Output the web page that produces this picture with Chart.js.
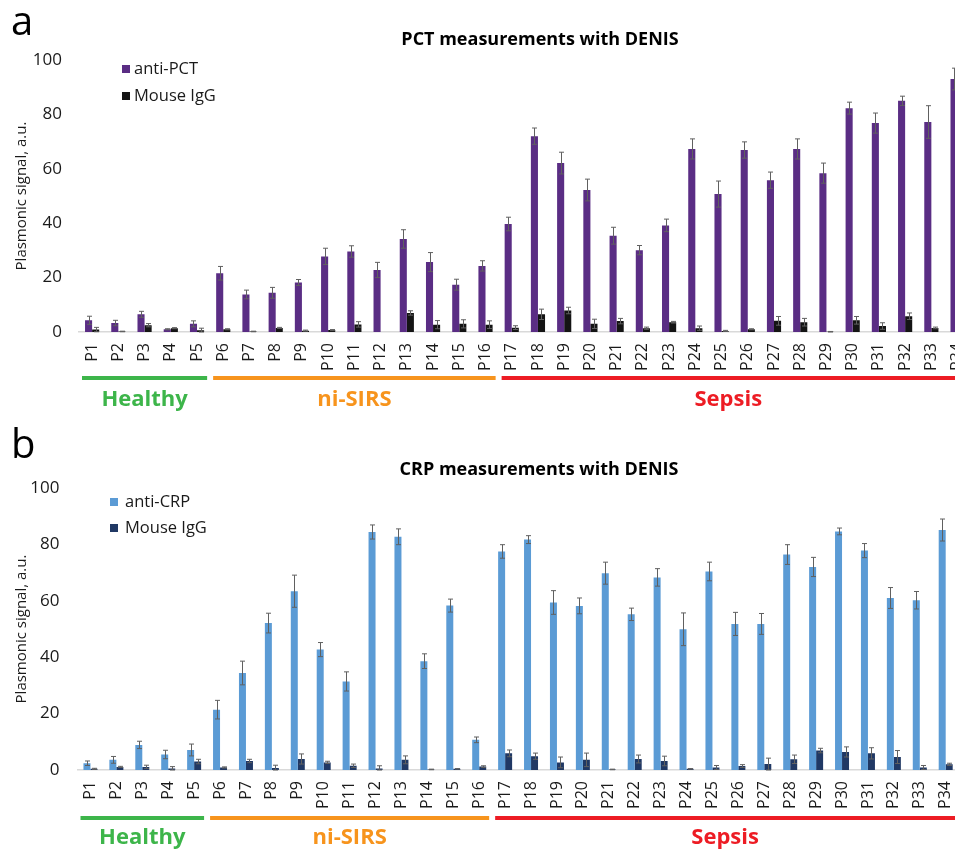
<!DOCTYPE html>
<html>
<head>
<meta charset="utf-8">
<script src="https://cdn.jsdelivr.net/npm/chart.js@4/dist/chart.umd.min.js"></script>
<style>
  body { margin: 0; background: #fff; }
  #fig { position: relative; width: 955px; height: 849px; overflow: hidden; }
  #pctChart { position: absolute; left: 0; top: 0; }
  #crpChart { position: absolute; left: 0; top: 420px; }
</style>
</head>
<body>
<div id="fig">
  <canvas id="pctChart" width="988" height="420"></canvas>
  <canvas id="crpChart" width="976" height="429"></canvas>
</div>
<script>
// Patients
const patients = ["P1","P2","P3","P4","P5","P6","P7","P8","P9","P10","P11","P12","P13","P14","P15","P16","P17",
    "P18","P19","P20","P21","P22","P23","P24","P25","P26","P27","P28","P29","P30","P31","P32","P33","P34"];

// Patient groups (first and last patient index)
const groupNames = ["Healthy", "ni-SIRS", "Sepsis"];
const groupFirst = [0, 5, 16];
const groupLast = [4, 15, 33];
const groupColors = ["#3db54a", "#f7941d", "#ed1c24"];

// PCT panel
const pctAnti = [4.3, 3.3, 6.5, 1.0, 3.0, 21.6, 13.8, 14.4, 18.2, 27.8, 29.6, 22.8, 34.2, 25.7, 17.4, 24.3, 39.7,
    72.0, 62.1, 52.2, 35.4, 30.1, 39.2, 67.3, 50.7, 66.9, 55.8, 67.3, 58.4, 82.3, 76.8, 85.0, 77.2, 93.0];
const pctAntiErr = [1.5, 1.0, 1.1, 0.2, 1.1, 2.5, 1.6, 2.0, 1.1, 3.0, 2.1, 2.8, 3.4, 3.5, 2.0, 1.9, 2.5,
    3.0, 4.0, 4.0, 3.1, 1.7, 2.3, 3.7, 4.8, 3.0, 3.0, 3.7, 3.7, 2.2, 3.7, 1.7, 6.0, 4.0];
const pctIgg = [0.9, 0.2, 2.5, 1.4, 0.6, 1.0, 0.2, 1.5, 0.5, 0.7, 2.8, 0, 7.0, 2.7, 3.0, 2.7, 1.6,
    6.5, 7.9, 3.0, 4.0, 1.4, 3.6, 1.4, 0.4, 1.0, 4.1, 3.6, 0.1, 4.3, 2.2, 5.8, 1.5, 1.0];
const pctIggErr = [0.8, 0.1, 0.6, 0.2, 0.8, 0.2, 0.1, 0.2, 0.2, 0.2, 1.0, 0, 0.8, 1.5, 1.5, 1.4, 0.7,
    1.9, 1.2, 1.7, 1.0, 0.4, 0.3, 0.8, 0.2, 0.2, 1.6, 1.4, 0.1, 1.4, 1.2, 1.2, 0.3, 0.3];

// CRP panel
const crpAnti = [2.4, 3.6, 8.9, 5.5, 7.1, 21.4, 34.4, 52.1, 63.4, 42.7, 31.4, 84.4, 82.7, 38.6, 58.3, 10.7, 77.5,
    81.7, 59.4, 58.2, 69.8, 55.2, 68.3, 49.9, 70.4, 51.8, 51.8, 76.4, 72.0, 84.6, 77.8, 61.0, 60.2, 85.1];
const crpAntiErr = [0.8, 1.2, 1.3, 1.5, 2.1, 3.3, 4.2, 3.5, 5.7, 2.5, 3.4, 2.5, 2.8, 2.6, 2.3, 1.0, 2.4,
    1.4, 4.2, 2.8, 3.9, 2.2, 3.1, 5.8, 3.3, 4.1, 3.7, 3.5, 3.4, 1.2, 2.5, 3.7, 3.1, 3.9];
const crpIgg = [0.4, 1.1, 1.1, 0.5, 3.0, 0.9, 3.2, 0.7, 3.9, 2.7, 1.5, 0.5, 3.6, 0.2, 0.4, 1.2, 5.9,
    4.9, 2.7, 3.6, 0.2, 3.9, 3.2, 0.4, 0.9, 1.4, 2.1, 3.8, 6.9, 6.4, 5.9, 4.6, 0.9, 2.0];
const crpIggErr = [0.2, 0.2, 0.6, 0.7, 0.8, 0.2, 0.6, 1.0, 1.8, 0.4, 0.6, 1.0, 1.4, 0.1, 0.1, 0.3, 1.2,
    1.1, 1.9, 2.4, 0.1, 1.4, 1.7, 0.1, 0.7, 0.5, 2.1, 1.5, 0.8, 1.8, 2.0, 2.3, 0.7, 0.4];

const yMax = 100;
const yStep = 20;

const FONT = "'Open Sans', 'Noto Sans', sans-serif";

// error bars, drawn from the scale
const errorBars = {
    id: "errorBars",
    afterDatasetsDraw(chart) {
        const ctx = chart.ctx;
        const y = chart.scales.y;
        ctx.save();
        ctx.strokeStyle = "#606060";
        ctx.lineWidth = 1;
        chart.data.datasets.forEach((ds, di) => {
            chart.getDatasetMeta(di).data.forEach((bar, i) => {
                const e = ds.errors[i];
                if (!e) return;
                const top = y.getPixelForValue(ds.data[i] + e);
                const bot = y.getPixelForValue(Math.max(ds.data[i] - e, 0));
                const x = Math.round(bar.x) + 0.5;
                ctx.beginPath();
                ctx.moveTo(x, top); ctx.lineTo(x, bot);
                ctx.moveTo(x - 2.5, top); ctx.lineTo(x + 2.5, top);
                ctx.moveTo(x - 2.5, bot); ctx.lineTo(x + 2.5, bot);
                ctx.stroke();
            });
        });
        ctx.restore();
    }
};

// panel letter, title, legend and group brackets
function makeDeco(opt) {
    return {
        id: "deco",
        afterDraw(chart) {
            const ctx = chart.ctx;
            const area = chart.chartArea;
            const x = chart.scales.x;
            ctx.save();
            ctx.fillStyle = "#000";
            ctx.font = "40px " + FONT;
            ctx.textAlign = "left";
            ctx.textBaseline = "alphabetic";
            ctx.fillText(opt.letter, opt.letterX, opt.letterY);

            ctx.font = "bold 18px " + FONT;
            ctx.textAlign = "center";
            ctx.textBaseline = "middle";
            ctx.fillText(opt.title, opt.titleX, opt.titleY);

            // legend
            ctx.font = "16.5px " + FONT;
            ctx.textAlign = "left";
            chart.data.datasets.forEach((ds, i) => {
                const ly = opt.legendY + i * opt.legendGap;
                ctx.fillStyle = ds.backgroundColor;
                ctx.fillRect(opt.legendX, ly - 4, 8, 8);
                ctx.fillStyle = "#1a1a1a";
                ctx.fillText(ds.label, opt.legendX + opt.legendText, ly);
            });

            // groups
            const half = (x.getPixelForValue(1) - x.getPixelForValue(0)) / 2;
            groupNames.forEach((name, g) => {
                const x0 = x.getPixelForValue(groupFirst[g]) - half + 3;
                const x1 = x.getPixelForValue(groupLast[g]) + half - 3;
                ctx.fillStyle = groupColors[g];
                ctx.fillRect(x0, area.bottom + opt.lineOff - 2, x1 - x0, 4);
                ctx.font = "bold 22px " + FONT;
                ctx.textAlign = "center";
                ctx.fillText(name, (x0 + Math.min(x1, 955)) / 2, area.bottom + opt.labelOff);
            });
            ctx.restore();
        }
    };
}

function makeChart(id, antiLabel, anti, antiErr, antiColor, igg, iggErr, iggColor, pad, yWidth, tickPad, deco) {
    return new Chart(document.getElementById(id), {
        type: "bar",
        data: {
            labels: patients,
            datasets: [
                { label: antiLabel, data: anti, errors: antiErr, backgroundColor: antiColor },
                { label: "Mouse IgG", data: igg, errors: iggErr, backgroundColor: iggColor }
            ]
        },
        options: {
            responsive: false,
            animation: false,
            devicePixelRatio: 1,
            categoryPercentage: 0.54,
            barPercentage: 1,
            layout: { padding: pad },
            plugins: { legend: { display: false }, tooltip: { enabled: false } },
            scales: {
                x: {
                    grid: { display: false, drawTicks: false },
                    border: { display: true, color: "#d9d9d9", width: 1.5 },
                    ticks: { autoSkip: false, minRotation: 90, maxRotation: 90, padding: 11,
                        color: "#1a1a1a", font: { family: FONT, size: 16 } },
                    afterFit: (s) => { s.height = 40; }
                },
                y: {
                    min: 0, max: yMax,
                    grid: { display: false, drawTicks: false },
                    border: { display: false },
                    ticks: { stepSize: yStep, padding: tickPad, color: "#1a1a1a", font: { family: FONT, size: 17 } },
                    title: { display: true, text: "Plasmonic signal, a.u.", color: "#1a1a1a",
                        font: { family: FONT, size: 15 }, padding: { top: 13, bottom: 0 } },
                    afterFit: (s) => { s.width = yWidth; }
                }
            }
        },
        plugins: [errorBars, makeDeco(deco)]
    });
}

const pctChart = makeChart("pctChart", "anti-PCT", pctAnti, pctAntiErr, "#5a2d84", pctIgg, pctIggErr, "#141414",
    { top: 60, bottom: 48, left: 0, right: 15 }, 79, 17,
    { letter: "a", letterX: 11, letterY: 35, title: "PCT measurements with DENIS", titleX: 540, titleY: 40,
      legendX: 122, legendY: 69, legendGap: 27, legendText: 12, lineOff: 46, labelOff: 68 });

const crpChart = makeChart("crpChart", "anti-CRP", crpAnti, crpAntiErr, "#5b9bd5", crpIgg, crpIggErr, "#203864",
    { top: 68, bottom: 39, left: 0, right: 7 }, 77.5, 18,
    { letter: "b", letterX: 11, letterY: 38, title: "CRP measurements with DENIS", titleX: 539, titleY: 50,
      legendX: 110, legendY: 82, legendGap: 26, legendText: 15, lineOff: 48, labelOff: 68 });
</script>
</body>
</html>
